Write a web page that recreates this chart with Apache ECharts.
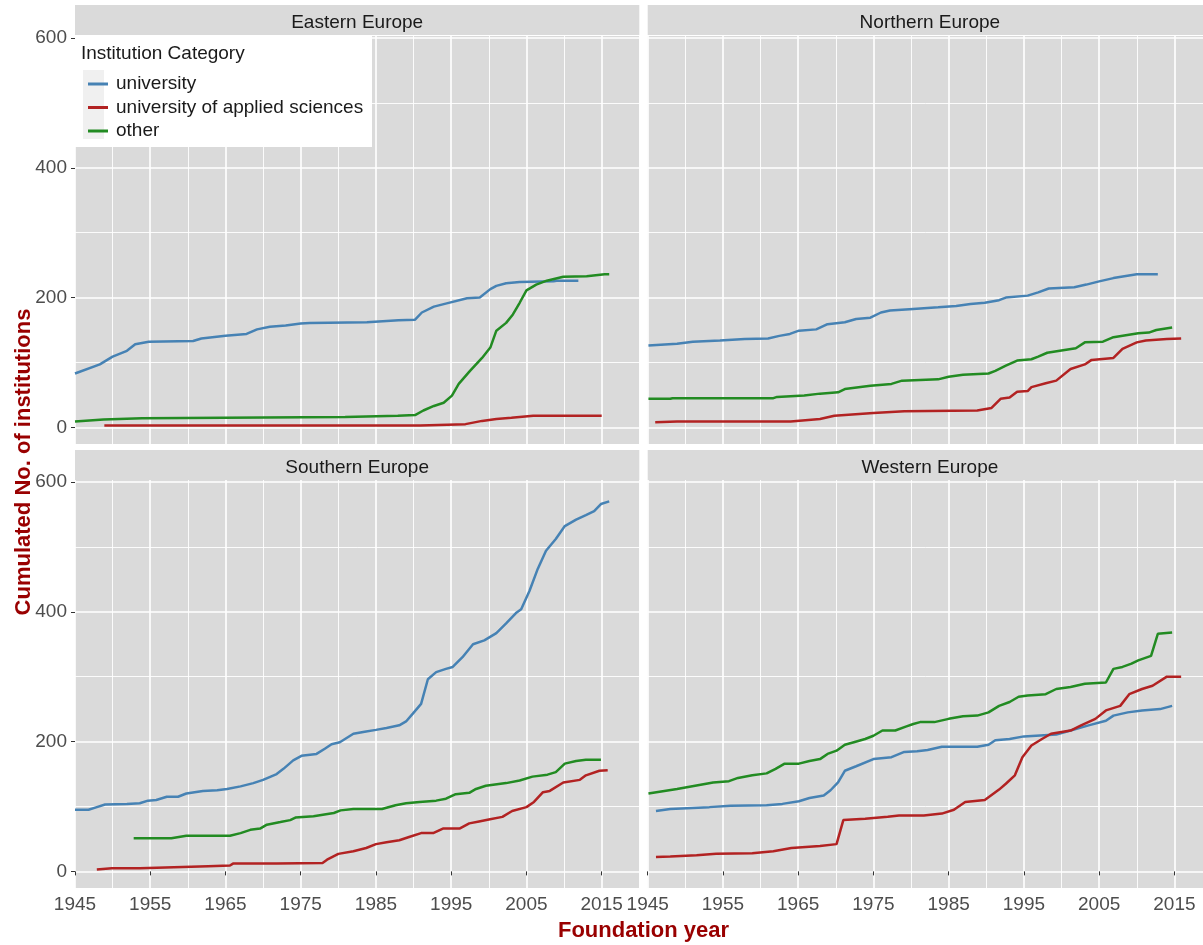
<!DOCTYPE html>
<html>
<head>
<meta charset="utf-8">
<script src="https://cdn.jsdelivr.net/npm/echarts@6/dist/echarts.min.js"></script>
<style>
  html, body { margin: 0; padding: 0; background: #fff; }
  #chart { width: 1203px; height: 945px; }
</style>
</head>
<body>
<div id="chart"></div>
<script>
// cumulated institutions per region, [foundation year, count]
const eastUniv = [[1945,83],[1948.3,97],[1950,109],[1951.9,118],[1953,128],[1954.8,132],[1960.7,133],[1961.8,137],[1965,141],[1967.8,144],[1969.2,151],[1970.9,155],[1973,157],[1975,160],[1976.2,161],[1983.8,162],[1984,164],[1988,165],[1990.2,166],[1991.1,177],[1992.7,186],[1994.4,191],[1997.1,199],[1998.8,200],[2000.2,213],[2001,218],[2002.3,222],[2004.1,224],[2008.6,225],[2009,226],[2011.9,226]];
const eastUas = [[1948.9,3],[1990.9,3],[1991,5],[1996.9,5],[1997,8],[1999.1,10],[2001,13],[2003,15],[2005.9,18],[2015,18]];
const eastOther = [[1945,9],[1948.8,12],[1953.9,14],[1980.9,16],[1987.9,18],[1990.2,19],[1991.3,26],[1992.7,33],[1994,38],[1995.1,49],[1996,67],[1997.5,87],[1999.1,107],[2000.2,123],[2001,149],[2002.3,161],[2003.2,174],[2004.1,192],[2005,211],[2006.3,220],[2007.7,226],[2009.9,232],[2013,233],[2015.4,236],[2016,236]];

const northUniv = [[1945.1,126],[1948.9,129],[1951,132],[1954.6,134],[1957.9,136],[1961,137],[1962.5,141],[1963.9,144],[1965.1,149],[1967.4,151],[1968.9,159],[1971.2,162],[1972.7,167],[1974.6,169],[1976,177],[1977.2,180],[1979.8,182],[1983.6,185],[1986,187],[1987.9,190],[1989.8,192],[1991.7,196],[1992.6,200],[1995.5,203],[1996.9,208],[1998.3,214],[2001.7,216],[2003.3,220],[2005,225],[2006.9,230],[2010,236],[2012.8,236]];
const northUas = [[1946,8],[1948.9,9],[1964,9],[1964.2,12],[1967.9,13],[1969.8,18],[1975,22],[1979.1,25],[1988.8,26],[1990.7,30],[1991.9,44],[1993.1,46],[1994.1,55],[1995.5,56],[1996,62],[1997.9,68],[1999.3,72],[2001.2,90],[2003.1,97],[2004,104],[2006.9,107],[2008.1,121],[2010,131],[2011.2,134],[2014,136],[2015.9,137]];
const northOther = [[1945.1,44],[1948,44],[1948.3,45],[1961.7,45],[1962.2,47],[1965.8,49],[1967.9,52],[1970.3,54],[1971.2,59],[1974.6,64],[1977.4,67],[1978.8,72],[1983.6,74],[1985,78],[1986.9,81],[1990.3,83],[1991.2,87],[1992.6,95],[1994.1,103],[1996,105],[1996.9,109],[1998.1,115],[2000.2,119],[2001.9,122],[2003.1,131],[2005.5,132],[2006.9,139],[2010.2,145],[2011.6,146],[2012.6,150],[2014.7,154]];

const southUniv = [[1945,95],[1946.8,95],[1947.9,99],[1949,103],[1951.9,104],[1953.6,105],[1954.7,109],[1955.8,110],[1957.2,115],[1958.7,115],[1959.8,120],[1962,124],[1963.9,125],[1965.2,127],[1967,131],[1968.7,136],[1970,141],[1971.8,150],[1972.7,158],[1974,171],[1975.1,178],[1977.1,181],[1978.2,189],[1979.1,196],[1980.2,199],[1982,212],[1983.5,215],[1985,218],[1986.4,221],[1988.1,225],[1989,231],[1989.9,243],[1991,258],[1991.9,296],[1993,307],[1994.3,312],[1995.2,315],[1996.5,330],[1997.9,350],[1999.4,356],[2001,367],[2002.3,382],[2003.7,399],[2004.3,404],[2005.4,432],[2006.5,466],[2007.6,494],[2008.9,512],[2010.1,532],[2011.6,542],[2012.9,549],[2014,555],[2014.9,566],[2016,570]];
const southUas = [[1947.9,3],[1949.9,5],[1953.6,5],[1953.8,8],[1962.7,8],[1962.9,9],[1965.6,9],[1966,12],[1971.8,12],[1972,13],[1977.9,13],[1978.5,18],[1980,27],[1982,31],[1983.7,36],[1985,42],[1986.4,45],[1988.1,48],[1989.4,53],[1991,59],[1992.6,59],[1993.9,66],[1996.1,66],[1997.4,74],[1998.7,77],[2000,80],[2001.8,84],[2003.1,93],[2005,99],[2006,107],[2007.2,122],[2008.1,124],[2009.9,137],[2012.1,141],[2012.9,148],[2014.7,155],[2015.8,156]];
const southOther = [[1952.8,51],[1957.8,51],[1958,54],[1959.8,55],[1965.6,55],[1967,59],[1968.3,64],[1969.6,66],[1970.5,72],[1972.3,76],[1973.6,79],[1974.3,83],[1976.7,85],[1979.4,90],[1980.3,94],[1982,96],[1985.8,96],[1987.6,102],[1989,105],[1990.8,107],[1993,109],[1994.3,112],[1995.6,119],[1997.4,121],[1998.3,127],[1999.6,132],[2002.3,136],[2004.1,140],[2005.8,146],[2007.8,149],[2008.9,153],[2010.1,166],[2011.6,170],[2012.9,172],[2014.9,172]];

const westUniv = [[1946.1,93],[1948,96],[1953.2,99],[1956,101],[1960.8,102],[1962.9,104],[1965.1,108],[1966.5,113],[1968.4,117],[1969.3,125],[1970.3,137],[1971.2,155],[1972.7,162],[1975,173],[1977.4,176],[1979.1,184],[1980.8,185],[1982.2,187],[1984.1,192],[1988.8,192],[1990.3,195],[1991.2,202],[1993.1,204],[1995,208],[1999.3,211],[2001.2,217],[2003.6,225],[2005.9,232],[2006.9,240],[2008.8,245],[2010.7,248],[2013.1,250],[2014.7,255]];
const westUas = [[1946.1,22],[1948,23],[1951.5,25],[1954.1,27],[1958.9,28],[1961.7,31],[1964.1,36],[1967.9,39],[1970.1,42],[1971,79],[1973.9,81],[1976.9,84],[1978.4,86],[1981.7,86],[1984.1,89],[1985.7,95],[1987.2,107],[1989.8,110],[1991.7,126],[1992.6,135],[1993.8,148],[1994.8,176],[1996,194],[1997.4,204],[1998.6,212],[2001.2,217],[2002.6,225],[2004.5,235],[2005.9,248],[2007.8,255],[2009,273],[2010.7,281],[2012.1,286],[2014,300],[2015.9,300]];
const westOther = [[1945.1,120],[1948.9,127],[1951.3,132],[1953.7,137],[1955.8,139],[1957,144],[1958.9,148],[1960.8,151],[1962,158],[1963.2,166],[1965.1,166],[1966.5,170],[1967.9,173],[1968.9,181],[1970.1,186],[1971.2,195],[1972.4,199],[1973.9,204],[1975,209],[1976.2,217],[1977.9,217],[1979.3,223],[1980.3,227],[1981.2,230],[1983.1,230],[1985,235],[1986.9,239],[1988.8,240],[1990.3,245],[1991.7,255],[1993.1,261],[1994.3,269],[1995.5,271],[1997.9,273],[1999.3,281],[2001.2,284],[2003.1,289],[2005.9,291],[2006.9,312],[2008.1,315],[2009.3,320],[2010.2,325],[2011.9,332],[2012.8,366],[2014.7,368]];

const regions = ['Eastern Europe', 'Northern Europe', 'Southern Europe', 'Western Europe'];
const categories = ['university', 'university of applied sciences', 'other'];
const regionData = [
    [eastUniv, eastUas, eastOther],
    [northUniv, northUas, northOther],
    [southUniv, southUas, southOther],
    [westUniv, westUas, westOther]
];
const yearTicks = [1945, 1955, 1965, 1975, 1985, 1995, 2005, 2015];
const yearMinor = [1950, 1960, 1970, 1980, 1990, 2000, 2010, 2020];
const countTicks = [0, 200, 400, 600];
const countMinor = [100, 300, 500];

const colors = ['#4682B4', '#B22222', '#228B22'];
const font = 'Liberation Sans, Arial, sans-serif';
const panelBg = '#DADADA';

// facet layout (pixels); right column is cut by the picture edge,
// so its x range stops where the canvas ends (same px per year)
const pxPerYear = 564.3 / 75;
const panelLeft = [75, 647.7, 75, 647.7];
const panelW = [564.3, 1203 - 647.7, 564.3, 1203 - 647.7];
const panelH = 408;
const panelTop = [36, 36, 480, 480];
const stripTop = [5, 5, 450, 450];

let grids = [], xAxes = [], yAxes = [], series = [], graphics = [];

regions.forEach(function (name, i) {
    const bottomRow = i >= 2, leftCol = i % 2 === 0;
    const xMax = 1945 + panelW[i] / pxPerYear;
    grids.push({
        left: panelLeft[i], top: panelTop[i], width: panelW[i], height: panelH,
        show: true, backgroundColor: panelBg, borderWidth: 0
    });
    // minor grid lines (data axis)
    xAxes.push({
        type: 'value', gridIndex: i, min: 1945, max: xMax,
        axisLine: {show: false}, axisLabel: {show: false},
        axisTick: {show: false, customValues: yearMinor},
        splitLine: {show: true, lineStyle: {color: '#fff', width: 0.9}}
    });
    // major grid lines, ticks, labels
    xAxes.push({
        type: 'value', gridIndex: i, min: 1945, max: xMax, position: 'bottom',
        axisLine: {show: false},
        axisTick: {show: bottomRow, customValues: yearTicks, length: 4, lineStyle: {color: '#333', width: 1}},
        axisLabel: {
            show: bottomRow, customValues: yearTicks, margin: 7, fontSize: 19, color: '#4D4D4D', fontFamily: font,
            formatter: function (v) { return String(v); }
        },
        splitLine: {show: true, lineStyle: {color: '#fff', width: 1.6}}
    });
    yAxes.push({
        type: 'value', gridIndex: i, min: -25.6, max: 603,
        axisLine: {show: false}, axisLabel: {show: false},
        axisTick: {show: false, customValues: countMinor},
        splitLine: {show: true, lineStyle: {color: '#fff', width: 0.9}}
    });
    yAxes.push({
        type: 'value', gridIndex: i, min: -25.6, max: 603, position: 'left',
        axisLine: {show: false},
        axisTick: {show: leftCol, customValues: countTicks, length: 4, lineStyle: {color: '#333', width: 1}},
        axisLabel: {show: leftCol, customValues: countTicks, margin: 8, fontSize: 19, color: '#4D4D4D', fontFamily: font},
        splitLine: {show: true, lineStyle: {color: '#fff', width: 1.6}}
    });

    regionData[i].forEach(function (pts, k) {
        series.push({
            name: categories[k], type: 'line', data: pts,
            xAxisIndex: 2 * i, yAxisIndex: 2 * i,
            symbol: 'none', showSymbol: false,
            lineStyle: {width: 2.5, color: colors[k]}, itemStyle: {color: colors[k]},
            z: 2 + k
        });
    });

    // facet strip (centred on the full, uncut panel width)
    graphics.push({
        type: 'rect', left: panelLeft[i], top: stripTop[i],
        shape: {width: panelW[i], height: 30}, style: {fill: panelBg}
    });
    graphics.push({
        type: 'text', x: panelLeft[i] + 564.3 / 2, y: stripTop[i] + 17.5,
        style: {text: name, fill: '#1A1A1A', font: '19px ' + font, textAlign: 'center', textVerticalAlign: 'middle'}
    });
});

// legend box
graphics.push({type: 'rect', left: 75, top: 36, shape: {width: 297, height: 111}, style: {fill: '#fff'}, z: 5});
graphics.push({type: 'rect', left: 83, top: 70, shape: {width: 21, height: 69}, style: {fill: '#F0F0F0'}, z: 6});
graphics.push({
    type: 'text', x: 81, y: 54, z: 6,
    style: {text: 'Institution Category', fill: '#1A1A1A', font: '19px ' + font, textVerticalAlign: 'middle'}
});
// axis titles
graphics.push({
    type: 'text', x: 24, y: 462, rotation: Math.PI / 2,
    style: {text: 'Cumulated No. of institutions', fill: '#990000', font: 'bold 22px ' + font, textAlign: 'center', textVerticalAlign: 'middle'}
});
graphics.push({
    type: 'text', x: 643.5, y: 931,
    style: {text: 'Foundation year', fill: '#990000', font: 'bold 22px ' + font, textAlign: 'center', textVerticalAlign: 'middle'}
});

const chart = echarts.init(document.getElementById('chart'), null, {renderer: 'canvas'});
chart.setOption({
    animation: false,
    backgroundColor: '#fff',
    grid: grids,
    xAxis: xAxes,
    yAxis: yAxes,
    series: series,
    legend: {
        data: categories, orient: 'vertical', left: 83, top: 69,
        icon: 'rect', itemWidth: 20, itemHeight: 3, itemGap: 3.5, selectedMode: false, z: 10,
        textStyle: {fontSize: 19, color: '#1A1A1A', fontFamily: font, lineHeight: 20, padding: [0, 0, 0, 3]}
    },
    graphic: {elements: graphics}
});
</script>
</body>
</html>
